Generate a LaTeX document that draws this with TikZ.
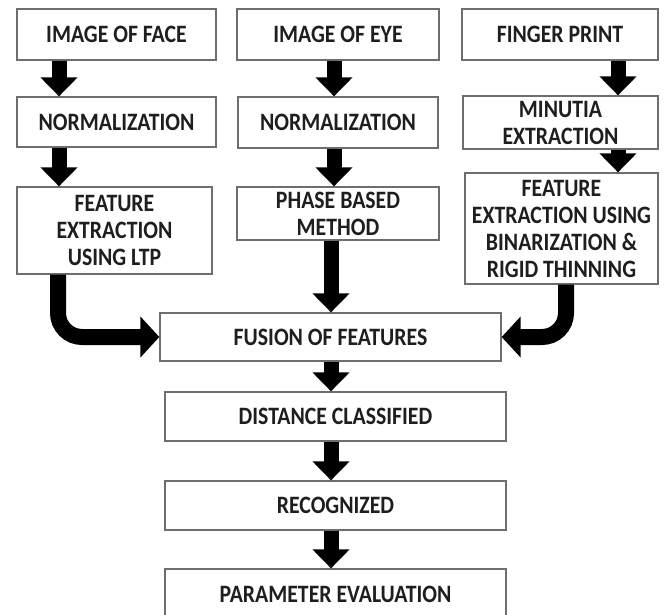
\documentclass[tikz,border=0pt]{standalone}
\usepackage{fontspec}
\setmainfont{Carlito}[FakeStretch=0.87]
\usetikzlibrary{arrows.meta}
\definecolor{boxgray}{HTML}{6E6E6E}
\definecolor{textcol}{HTML}{1E1E1E}
\begin{document}
\begin{tikzpicture}[x=1pt,y=-1pt,
  box/.style={draw=boxgray, line width=1.3pt, fill=white, inner sep=0pt, align=center,
    text=textcol, font=\fontsize{25}{27}\selectfont\bfseries},
  blk/.style={draw=black, line width=15pt, -{Triangle[width=36pt,length=19pt]}},
  curvearrow/.style={draw=black, line width=16pt, rounded corners=24pt, -{Triangle[width=40pt,length=19pt]}}]
\useasboundingbox (0,0) rectangle (669,614);
% column coordinates
\coordinate (cA) at (59,0);
\coordinate (cB) at (334,0);
\coordinate (cC) at (618,0);
\coordinate (cM) at (331,0);
\coordinate (cL) at (58,0);
\coordinate (cR) at (566,0);
% row 1
\node[box, minimum width=199pt, minimum height=51pt] (face) at (116.5,34.5) {IMAGE OF FACE};
\node[box, minimum width=202pt, minimum height=51pt] (eye) at (338,34.5) {IMAGE OF EYE};
\node[box, minimum width=196pt, minimum height=51pt] (finger) at (560,34.5) {FINGER PRINT};
% row 2
\node[box, minimum width=199pt, minimum height=50pt] (norma) at (116.5,122) {NORMALIZATION};
\node[box, minimum width=200pt, minimum height=51pt] (normb) at (338,122.5) {NORMALIZATION};
\node[box, minimum width=195pt, minimum height=53pt] (minutia) at (560.5,122.5) {MINUTIA\\EXTRACTION};
% row 3
\node[box, minimum width=195pt, minimum height=87pt] (ltp) at (114.5,230.5) {FEATURE\\EXTRACTION\\USING LTP};
\node[box, minimum width=202pt, minimum height=53pt] (phase) at (338,213.5) {PHASE BASED\\METHOD};
\node[box, minimum width=193pt, minimum height=111pt] (ffeat) at (561.5,228.5) {FEATURE\\EXTRACTION USING\\BINARIZATION \&\\RIGID THINNING};
% lower chain
\node[box, minimum width=341pt, minimum height=48pt] (fusion) at (330.5,337) {FUSION OF FEATURES};
\node[box, minimum width=341pt, minimum height=49pt] (dist) at (335.5,416.5) {DISTANCE CLASSIFIED};
\node[box, minimum width=341pt, minimum height=49pt] (recog) at (335.5,505.5) {RECOGNIZED};
\node[box, minimum width=341pt, minimum height=51pt] (param) at (335.5,594.5) {PARAMETER EVALUATION};
% arrows
\draw[blk] (face.south -| cA) -- (norma.north -| cA);
\draw[blk] (norma.south -| cA) -- (ltp.north -| cA);
\draw[blk] (eye.south -| cB) -- (normb.north -| cB);
\draw[blk] (normb.south -| cB) -- (phase.north -| cB);
\draw[blk] (finger.south -| cC) -- (minutia.north -| cC);
\draw[blk] (minutia.south -| cC) -- (ffeat.north -| cC);
\draw[blk] (phase.south -| cM) -- (fusion.north -| cM);
\draw[curvearrow] (ltp.south -| cL) |- (fusion.west);
\draw[curvearrow] (ffeat.south -| cR) |- (fusion.east);
\draw[blk] (fusion.south -| cM) -- (dist.north -| cM);
\draw[blk] (dist.south -| cM) -- (recog.north -| cM);
\draw[blk] (recog.south -| cM) -- (param.north -| cM);
\end{tikzpicture}
\end{document}
